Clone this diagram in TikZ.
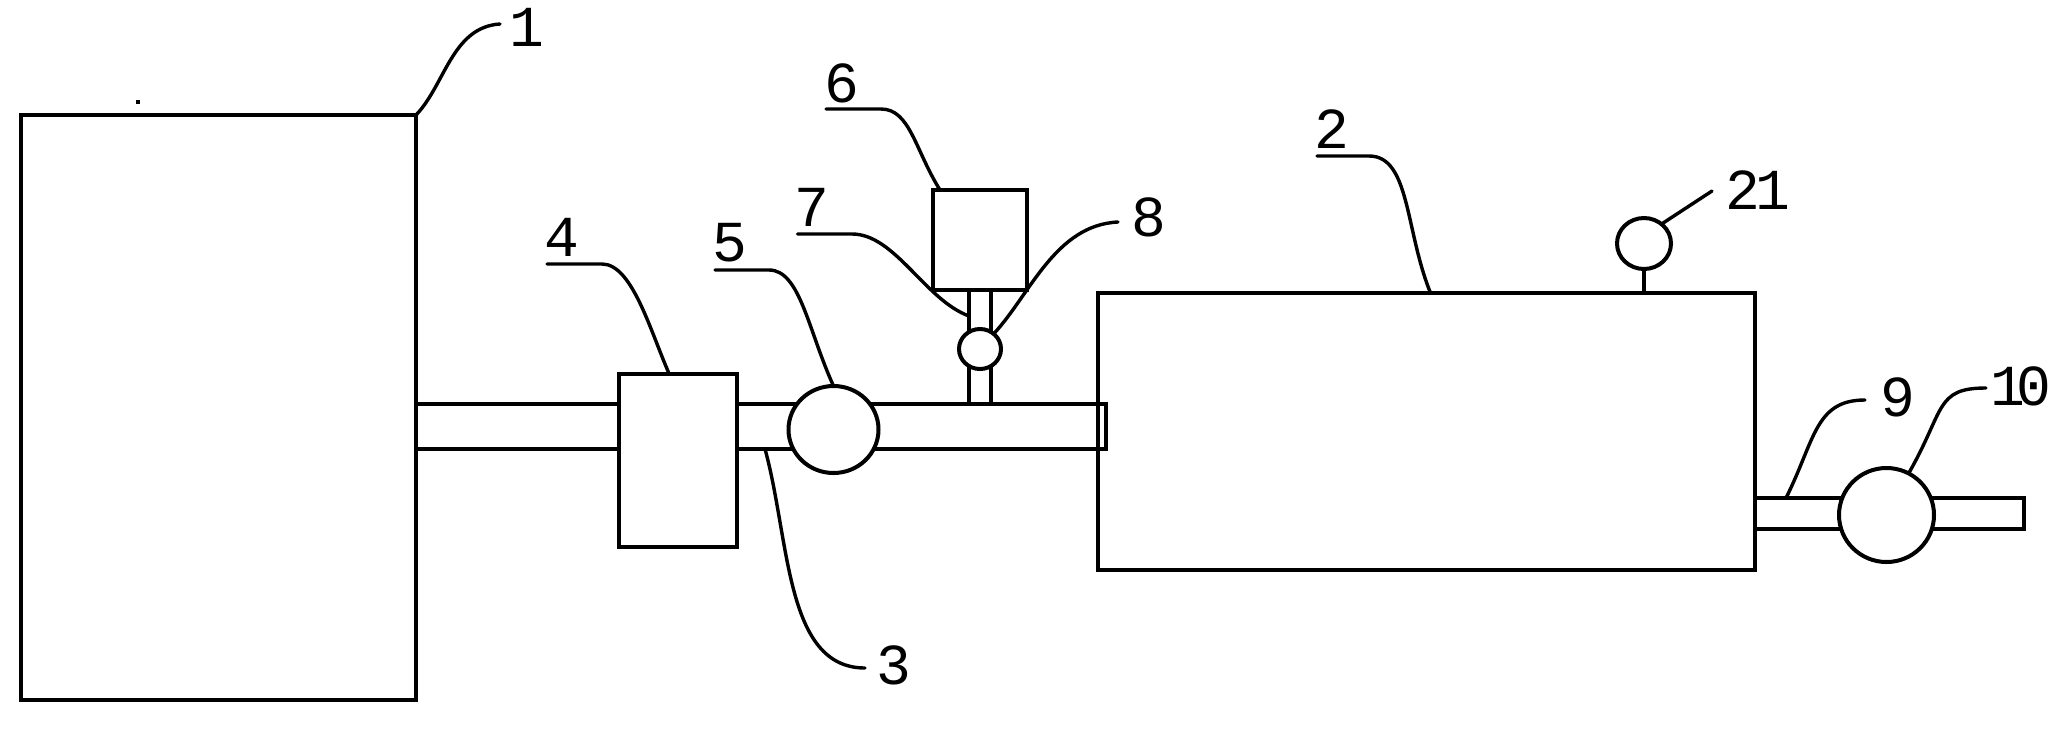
\documentclass[tikz,border=0pt]{standalone}
\usepackage{fontspec}
\usetikzlibrary{shapes.geometric}
\newfontfamily\labelfont[LetterSpace=-8]{Liberation Mono}
\newfontfamily\tightfont[LetterSpace=-15]{Liberation Mono}
\tikzset{
  every node/.style={inner sep=0pt,outer sep=0pt},
  heavy/.style={draw=black,line width=4pt,line join=miter},
  part/.style={heavy,rectangle,fill=white},
  tube/.style={draw=black,line width=3.6pt,rectangle},
  valve/.style={heavy,ellipse,fill=white},
  leader/.style={draw=black,line width=3.4pt,line cap=round},
  num/.style={font=\labelfont\fontsize{58}{58}\selectfont,text=black,anchor=center},
  numtight/.style={font=\tightfont\fontsize{58}{58}\selectfont,text=black,anchor=center}
}
\begin{document}
\begin{tikzpicture}[x=1pt,y=-1pt]
\useasboundingbox (0,0) rectangle (2054,732);
\fill[white] (0,0) rectangle (2054,732);
% pipes
\node[tube,minimum width=690pt,minimum height=45pt] (pA) at (761,426.5) {};
\node[tube,minimum width=22pt,minimum height=115pt] (pS) at (980,347) {};
\node[tube,minimum width=269pt,minimum height=31pt] (pB) at (1889.5,513.5) {};
% bodies
\node[heavy,rectangle,minimum width=395pt,minimum height=585pt] (b1) at (218.5,407.5) {};
\node[heavy,rectangle,minimum width=657pt,minimum height=277pt] (b2) at (1426.5,431.5) {};
\node[part,minimum width=118pt,minimum height=173pt] (b4) at (678,460) {};
\node[part,minimum width=94pt,minimum height=100pt] (b6) at (980,240) {};
% valves
\node[valve,minimum width=90pt,minimum height=87pt] (e5) at (833.5,429.5) {};
\node[valve,minimum width=42pt,minimum height=40pt] (e8) at (980,349) {};
\node[valve,minimum width=95pt,minimum height=94pt] (e10) at (1886.5,515) {};
\node[valve,minimum width=54pt,minimum height=51pt] (e21) at (1644,243.5) {};
\draw[leader] (e21.south) -- (e21.south |- b2.north);
% free ends of leaders
\coordinate (f1) at (500,24);
\coordinate (f2a) at (1317,156);
\coordinate (f2b) at (1369,156);
\coordinate (f3) at (865,668);
\coordinate (f4a) at (547,264);
\coordinate (f4b) at (602,264);
\coordinate (f5a) at (715,270);
\coordinate (f5b) at (769,270);
\coordinate (f6a) at (826,109);
\coordinate (f6b) at (881,109);
\coordinate (f7a) at (797.5,234);
\coordinate (f7b) at (852,234);
\coordinate (f8) at (1118,222);
\coordinate (f9) at (1865,400);
\coordinate (f10) at (1986,388);
\coordinate (f21) at (1712,191);
% leaders
\draw[leader] (b1.north east) .. controls (445,85) and (452,27) .. (f1);
\draw[leader] (f2a) -- (f2b) .. controls (1410,156) and (1405,230) .. ([xshift=4pt]b2.north);
\draw[leader] ([xshift=4pt]pA.south) .. controls (790,540) and (785,668) .. (f3);
\draw[leader] (f4a) -- (f4b) .. controls (632,264) and (650,330) .. ([xshift=-9pt]b4.north);
\draw[leader] (f5a) -- (f5b) .. controls (800,270) and (808,330) .. (e5.north);
\draw[leader] (f6a) -- (f6b) .. controls (910,109) and (915,150) .. ([xshift=-40pt]b6.north);
\draw[leader] (f7a) -- (f7b) .. controls (895,234) and (925,300) .. ([yshift=31pt]pS.west);
\draw[leader] (e8.48) .. controls (1030,295) and (1055,225) .. (f8);
\draw[leader] ([xshift=-103.5pt]pB.north) .. controls (1815,440) and (1815,400) .. (f9);
\draw[leader] (e10.62) .. controls (1945,410) and (1935,388) .. (f10);
\draw[leader] (e21.48) -- (f21);
% speck
\fill[black] (136,100) rectangle (140,104);
% labels
\node[num] (n1) at (527,27) {1};
\node[num] (n2) at (1332,129) {2};
\node[num] (n3) at (894,665) {3};
\node[num] (n4) at (562,237) {4};
\node[num] (n5) at (730,243) {5};
\node[num] (n6) at (841.5,83.5) {6};
\node[num] (n7) at (812,207) {7};
\node[num] (n8) at (1149,217) {8};
\node[num] (n9) at (1898,397) {9};
\node[numtight] (n10) at (2021,386) {10};
\node[num] (n21) at (1758,190) {21};
\end{tikzpicture}
\end{document}
